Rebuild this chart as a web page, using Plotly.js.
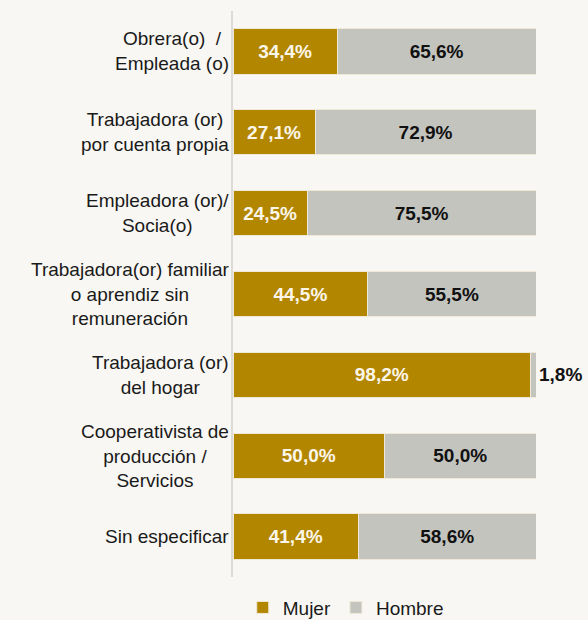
<!DOCTYPE html>
<html>
<head>
<meta charset="utf-8">
<script src="https://cdn.plot.ly/plotly-3.0.1.min.js"></script>
<style>html,body{margin:0;padding:0;background:#f8f7f3;}#chart{width:588px;height:620px;}</style>
</head>
<body>
<div id="chart"></div>
<script>
var categories = [
  "Obrera(o)  /<br>Empleada (o)",
  "Trabajadora (or)<br>por cuenta propia",
  "Empleadora (or)/<br>Socia(o)",
  "Trabajadora(or) familiar<br>o aprendiz sin<br>remuneración",
  "Trabajadora (or)<br>del hogar",
  "Cooperativista de<br>producción /<br>Servicios",
  "Sin especificar"
];
var mujer = [34.4, 27.1, 24.5, 44.5, 98.2, 50.0, 41.4];
var hombre = [65.6, 72.9, 75.5, 55.5, 1.8, 50.0, 58.6];
var seriesNames = ["Mujer", "Hombre"];

function fmt(v){ return v.toFixed(1).replace('.', ',') + '%'; }

var font = "Liberation Sans, Arial, sans-serif";

var traceM = {
  type: 'bar', orientation: 'h', name: seriesNames[0],
  y: categories, x: mujer,
  text: mujer.map(fmt), textposition: 'inside', insidetextanchor: 'middle',
  constraintext: 'none',
  textfont: {family: font, size: 19, color: '#fbf6ea', weight: 'bold'},
  marker: {color: '#b38600', line: {color: '#efe8d6', width: 1}},
  hoverinfo: 'none'
};
var traceH = {
  type: 'bar', orientation: 'h', name: seriesNames[1],
  y: categories, x: hombre,
  text: hombre.map(fmt),
  textposition: hombre.map(function(v){ return v < 10 ? 'outside' : 'inside'; }),
  insidetextanchor: 'middle', constraintext: 'none', cliponaxis: false,
  textfont: {family: font, size: 19, color: '#111111', weight: 'bold'},
  outsidetextfont: {family: font, size: 19, color: '#111111', weight: 'bold'},
  marker: {color: '#c4c4bf', line: {color: '#efe8d6', width: 1}},
  hoverinfo: 'none'
};

var annotations = categories.map(function(c){
  return {
    xref: 'paper', yref: 'y', x: 0, y: c, xanchor: 'right', yanchor: 'middle',
    xshift: -2, text: c, showarrow: false, align: 'center',
    font: {family: font, size: 19, color: '#1a1a1a'}
  };
});

var layout = {
  width: 588, height: 620,
  paper_bgcolor: '#f8f7f3', plot_bgcolor: '#f8f7f3',
  margin: {l: 233, r: 52, t: 11, b: 43},
  barmode: 'stack', bargap: 0.44,
  showlegend: true,
  legend: {orientation: 'h', xref: 'container', yref: 'container',
           x: 0.588, xanchor: 'center', y: 0.02, yanchor: 'middle',
           font: {family: font, size: 19, color: '#1a1a1a'}, bgcolor: 'rgba(0,0,0,0)',
           traceorder: 'normal'},
  xaxis: {range: [0, 100], visible: false, fixedrange: true},
  yaxis: {type: 'category', categoryorder: 'array', categoryarray: categories,
          autorange: 'reversed', showticklabels: false, ticks: '',
          showline: true, linecolor: '#dcdbd6', linewidth: 2, showgrid: false, zeroline: false},
  annotations: annotations,
  font: {family: font}
};

Plotly.newPlot('chart', [traceM, traceH], layout, {displayModeBar: false, staticPlot: true});
</script>
</body>
</html>
